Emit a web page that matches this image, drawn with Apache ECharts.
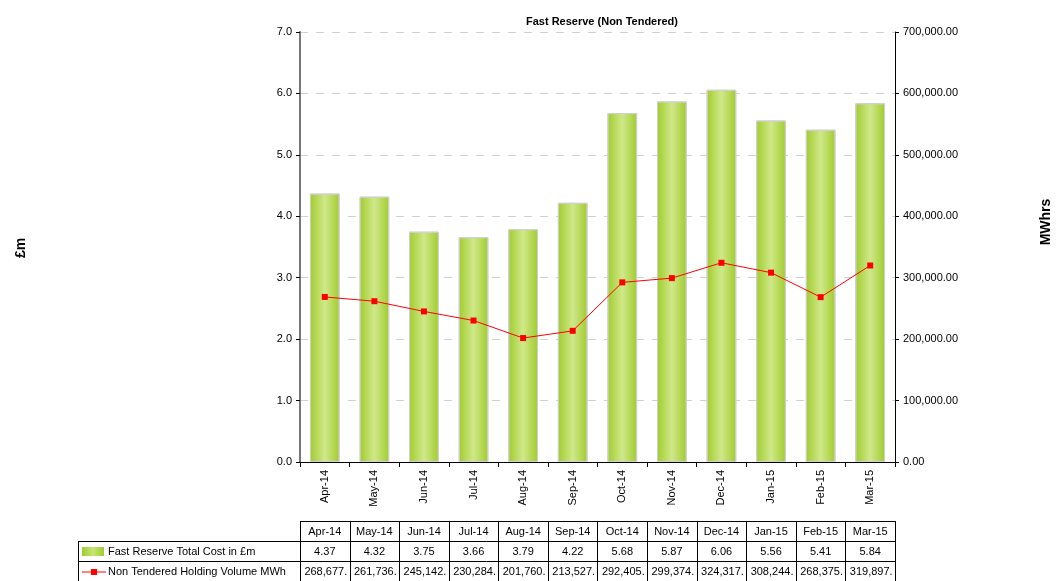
<!DOCTYPE html>
<html>
<head>
    <meta charset="utf-8">
    <title>Fast Reserve (Non Tendered)</title>
    <script src="https://cdn.jsdelivr.net/npm/echarts@6/dist/echarts.min.js"></script>
    <style>
        html, body { margin: 0; padding: 0; background: #fff; }
        #main { width: 1056px; height: 581px; }
    </style>
</head>
<body>
    <div id="main"></div>
    <script type="text/javascript">
        var months = ['Apr-14', 'May-14', 'Jun-14', 'Jul-14', 'Aug-14', 'Sep-14',
                      'Oct-14', 'Nov-14', 'Dec-14', 'Jan-15', 'Feb-15', 'Mar-15'];
        var costNames = 'Fast Reserve Total Cost in £m';
        var volumeName = 'Non Tendered Holding Volume MWh';
        var totalCost = [4.37, 4.32, 3.75, 3.66, 3.79, 4.22, 5.68, 5.87, 6.06, 5.56, 5.41, 5.84];
        var holdingVolume = [268677, 261736, 245142, 230284, 201760, 213527,
                             292405, 299374, 324317, 308244, 268375, 319897];

        var FONT = 'Liberation Sans, Arial, sans-serif';

        function withCommas(n) {
            return String(n).replace(/\B(?=(\d{3})+(?!\d))/g, ',');
        }

        var barColor = new echarts.graphic.LinearGradient(0, 0, 1, 0, [
            { offset: 0, color: '#a0cc2c' },
            { offset: 0.5, color: '#d0e88a' },
            { offset: 1, color: '#a0cc2c' }
        ]);

        var myChart = echarts.init(document.getElementById('main'));
        var option = {
            animation: false,
            textStyle: { fontFamily: FONT },
            title: {
                text: 'Fast Reserve (Non Tendered)',
                left: 597,
                top: 11,
                textAlign: 'center',
                textStyle: { fontSize: 11, fontWeight: 'bold', color: '#000', fontFamily: FONT }
            },
            grid: { left: 300, right: 161, top: 32, bottom: 119 },
            xAxis: {
                type: 'category',
                data: months,
                axisLine: { lineStyle: { color: '#000', width: 1 } },
                axisTick: { show: true, alignWithLabel: false, length: 5, lineStyle: { color: '#000' } },
                axisLabel: { rotate: 90, fontSize: 11, color: '#000', margin: 8, fontFamily: FONT }
            },
            yAxis: [{
                type: 'value',
                min: 0, max: 7, interval: 1,
                axisLine: { show: true, lineStyle: { color: '#777', width: 2 } },
                axisTick: { show: true, length: 4, lineStyle: { color: '#000' } },
                axisLabel: {
                    fontSize: 11, color: '#000', margin: 8, fontFamily: FONT,
                    formatter: function (v) { return v.toFixed(1); }
                },
                splitLine: { show: true, lineStyle: { color: '#d0d0d0', type: [8, 8] } }
            }, {
                type: 'value',
                min: 0, max: 700000, interval: 100000,
                axisLine: { show: true, lineStyle: { color: '#000', width: 1 } },
                axisTick: { show: true, length: 4, lineStyle: { color: '#000' } },
                axisLabel: {
                    fontSize: 11, color: '#000', margin: 8, fontFamily: FONT,
                    formatter: function (v) { return withCommas(v) + '.00'; }
                },
                splitLine: { show: false }
            }],
            series: [{
                name: costNames,
                type: 'bar',
                data: totalCost,
                barWidth: '60%',
                itemStyle: { color: barColor, borderColor: '#d0d0d0', borderWidth: 1 }
            }, {
                name: volumeName,
                type: 'line',
                yAxisIndex: 1,
                data: holdingVolume,
                symbol: 'rect',
                symbolSize: 6,
                lineStyle: { color: '#ff0000', width: 1 },
                itemStyle: { color: '#ff0000' }
            }]
        };
        myChart.setOption(option);

        // data table under the chart, columns follow the category axis
        var x0 = myChart.convertToPixel({ xAxisIndex: 0 }, 0);
        var x1 = myChart.convertToPixel({ xAxisIndex: 0 }, 1);
        var step = x1 - x0;
        var tableLeft = 78, gridLeft = x0 - step / 2, tableRight = gridLeft + step * months.length;
        var rowTop = 521, rowH = 20;
        var lineStyle = { stroke: '#000', lineWidth: 1 };
        var els = [];

        function hline(xa, xb, y) {
            els.push({ type: 'line', shape: { x1: xa, y1: y, x2: xb, y2: y }, style: lineStyle, silent: true });
        }
        function vline(x, ya, yb) {
            els.push({ type: 'line', shape: { x1: x, y1: ya, x2: x, y2: yb }, style: lineStyle, silent: true });
        }
        function cellText(x, y, s, align) {
            els.push({
                type: 'text', x: x, y: y,
                style: { text: s, fontSize: 11, fontFamily: FONT, fill: '#000', align: align || 'center', verticalAlign: 'middle' },
                silent: true
            });
        }

        hline(gridLeft, tableRight, rowTop + 0.5);
        hline(tableLeft, tableRight, rowTop + rowH + 0.5);
        hline(tableLeft, tableRight, rowTop + rowH * 2 + 0.5);
        vline(tableLeft + 0.5, rowTop + rowH, 581);
        for (var i = 0; i <= months.length; i++) {
            var vx = Math.round(gridLeft + step * i) + 0.5;
            vline(vx, rowTop, 581);
        }
        for (var j = 0; j < months.length; j++) {
            var cx = myChart.convertToPixel({ xAxisIndex: 0 }, j);
            cellText(cx, rowTop + rowH / 2 + 1, months[j]);
            cellText(cx, rowTop + rowH * 1.5 + 1, totalCost[j].toFixed(2));
            cellText(cx + 1, rowTop + rowH * 2.5 + 1, withCommas(holdingVolume[j]) + '.');
        }
        // legend keys in the first column
        els.push({
            type: 'rect', shape: { x: 82, y: rowTop + rowH + 6, width: 22, height: 9 },
            style: { fill: new echarts.graphic.LinearGradient(0, 0, 1, 0, [
                { offset: 0, color: '#a0cc2c' }, { offset: 0.5, color: '#c8e47a' }, { offset: 1, color: '#a0cc2c' }]) },
            silent: true
        });
        cellText(108, rowTop + rowH * 1.5 + 1, costNames, 'left');
        els.push({ type: 'line', shape: { x1: 82, y1: rowTop + rowH * 2.5 + 1, x2: 106, y2: rowTop + rowH * 2.5 + 1 },
            style: { stroke: '#ff0000', lineWidth: 1 }, silent: true });
        els.push({ type: 'rect', shape: { x: 91, y: rowTop + rowH * 2.5 - 2, width: 6, height: 6 },
            style: { fill: '#ff0000' }, silent: true });
        cellText(108, rowTop + rowH * 2.5 + 1, volumeName, 'left');

        // axis titles
        els.push({
            type: 'text', x: 21, y: 248, rotation: Math.PI / 2,
            style: { text: '£m', fontSize: 14, fontWeight: 'bold', fontFamily: FONT, fill: '#000', align: 'center', verticalAlign: 'middle' },
            silent: true
        });
        els.push({
            type: 'text', x: 1046, y: 222, rotation: Math.PI / 2,
            style: { text: 'MWhrs', fontSize: 14, fontWeight: 'bold', fontFamily: FONT, fill: '#000', align: 'center', verticalAlign: 'middle' },
            silent: true
        });

        myChart.setOption({ graphic: els });
    </script>
</body>
</html>
